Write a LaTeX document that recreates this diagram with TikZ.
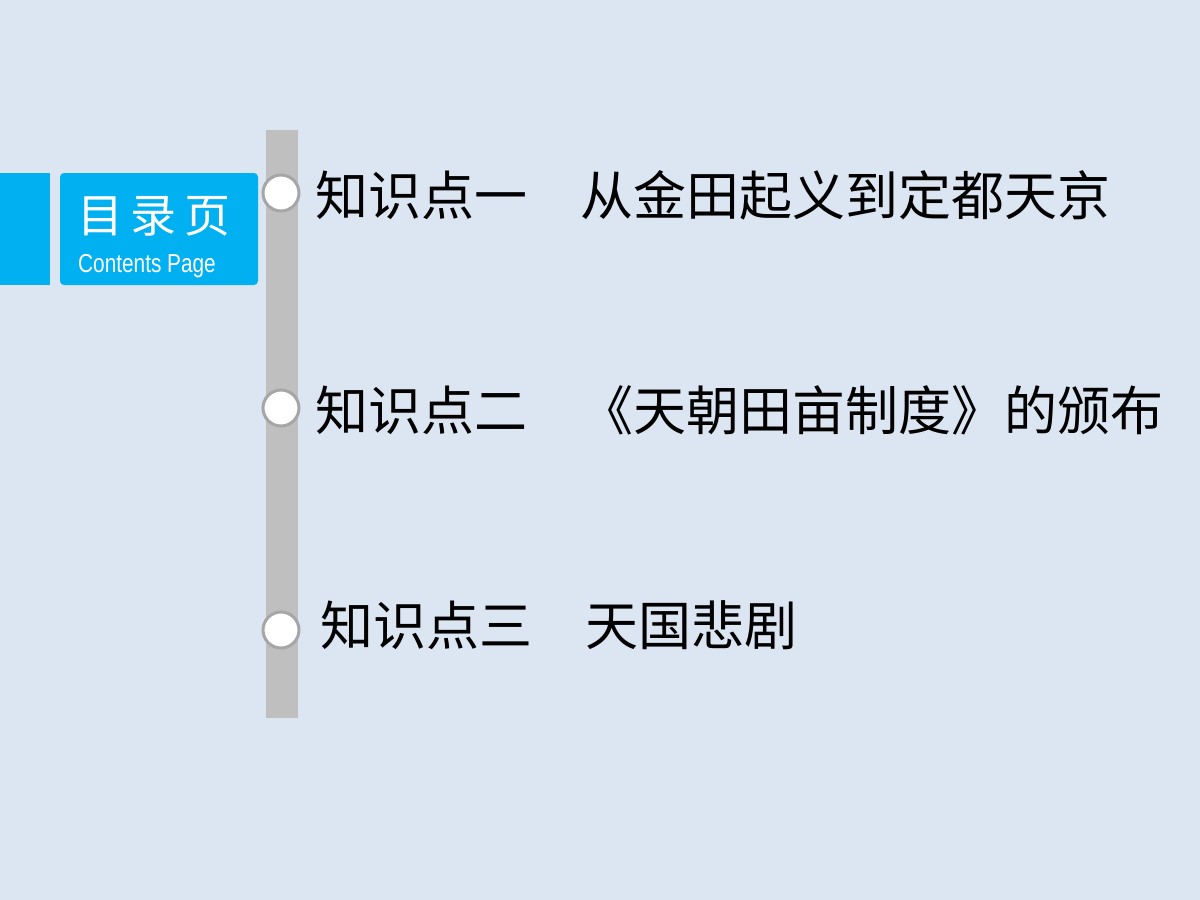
\documentclass[tikz,border=0pt]{standalone}
\usepackage{fontspec}
\setmainfont{Liberation Sans}
\newfontfamily\cjk{Noto Sans CJK SC}
\begin{document}
\begin{tikzpicture}[x=1pt,y=-1pt,
  item/.style={anchor=west,font=\cjk\fontsize{53}{56}\selectfont,inner sep=0},
  dot/.style={circle,draw=gray!70,line width=3pt,fill=white,minimum size=36pt,inner sep=0}]
\fill[fill={rgb,255:red,220;green,230;blue,242}] (0,0) rectangle (1200,900);
\fill[fill={rgb,255:red,0;green,176;blue,240}] (0,173) rectangle (50,285);
\fill[fill={rgb,255:red,0;green,176;blue,240},rounded corners=4pt] (60,173) rectangle (258,285);
\node[text=white,font=\cjk\fontsize{46}{48}\selectfont] (t1) at (154,216) {目\,录\,页};
\node[text=white,font=\fontsize{26}{28}\selectfont,xscale=0.8] (t2) at (147,266) {Contents Page};
\fill[fill={rgb,255:red,191;green,191;blue,191}] (266,130) rectangle (298,718);
\node[dot] (c1) at (281,193) {};
\node[dot] (c2) at (281,408) {};
\node[dot] (c3) at (281,630) {};
\node[item] (l1) at (315,195) {知识点一　从金田起义到定都天京};
\node[item] (l2) at (315,410) {知识点二　《天朝田亩制度》的颁布};
\node[item] (l3) at (320,625) {知识点三　天国悲剧};
\end{tikzpicture}
\end{document}
